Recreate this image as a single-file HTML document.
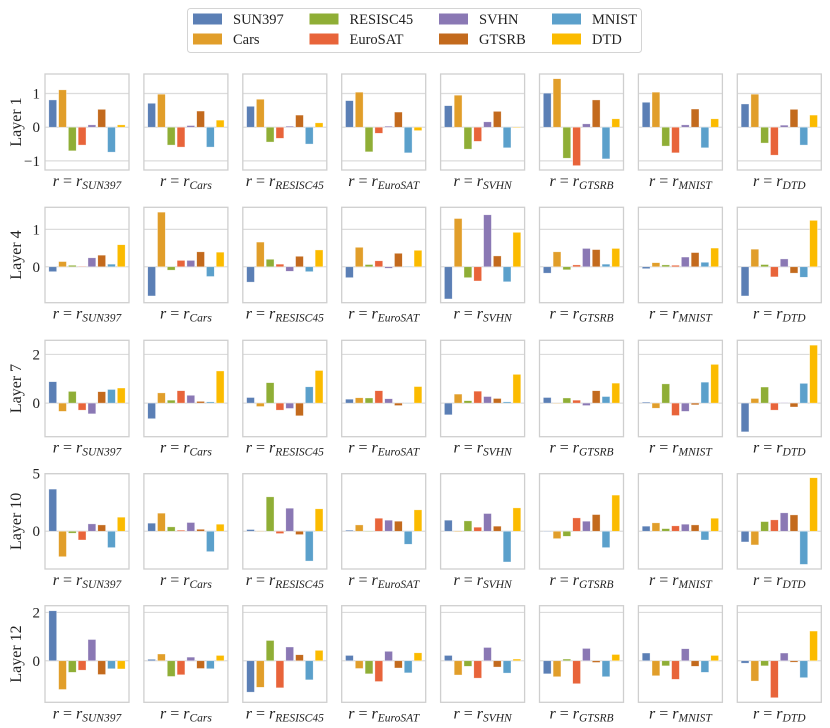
<!DOCTYPE html>
<html><head><meta charset="utf-8"><style>
html,body{margin:0;padding:0;background:#fff;}
svg{display:block;font-family:"Liberation Serif","DejaVu Serif",serif;}
</style></head><body>
<svg id="chart" width="830" height="728" viewBox="0 0 830 728">
<g id="legend"></g>
<g id="panels"></g>
</svg>
<script>
const datasets = ["SUN397","Cars","RESISC45","EuroSAT","SVHN","GTSRB","MNIST","DTD"];
const colors = ["#5b7fb5","#e19e2a","#8fae36","#e8643a","#8a78b4","#c36a1d","#5ba0cb","#fbbb00"];
const layerNames = ["Layer 1","Layer 4","Layer 7","Layer 10","Layer 12"];
const yTicks = [[-1,0,1],[0,1],[0,2],[0,5],[0,2]];
const yLimits = [[-1.27,1.58],[-0.96,1.59],[-1.38,2.58],[-3.28,5],[-1.72,2.28]];
// values[layer][panel r][bar dataset]
const layer1 = [
 [0.81,1.11,-0.70,-0.53,0.07,0.53,-0.74,0.07],
 [0.71,0.98,-0.53,-0.59,0.05,0.48,-0.59,0.21],
 [0.62,0.83,-0.44,-0.33,0.03,0.36,-0.50,0.13],
 [0.79,1.04,-0.73,-0.18,0.03,0.45,-0.76,-0.10],
 [0.64,0.95,-0.65,-0.42,0.16,0.47,-0.61,-0.02],
 [1.01,1.44,-0.92,-1.14,0.10,0.81,-0.94,0.25],
 [0.74,1.04,-0.56,-0.76,0.07,0.54,-0.61,0.25],
 [0.69,0.98,-0.47,-0.83,0.06,0.53,-0.53,0.36]];
const layer4 = [
 [-0.13,0.14,0.04,0.01,0.24,0.31,0.07,0.59],
 [-0.78,1.46,-0.09,0.17,0.17,0.40,-0.26,0.39],
 [-0.41,0.66,0.20,0.07,-0.12,0.28,-0.13,0.45],
 [-0.29,0.52,0.06,0.16,-0.04,0.36,0.01,0.44],
 [-0.86,1.29,-0.29,-0.38,1.39,0.29,-0.40,0.92],
 [-0.17,0.40,-0.08,0.05,0.49,0.46,0.07,0.49],
 [-0.05,0.11,0.05,0.04,0.26,0.38,0.12,0.50],
 [-0.78,0.47,0.06,-0.27,0.21,-0.17,-0.28,1.24]];
const layer7 = [
 [0.88,-0.34,0.48,-0.29,-0.44,0.47,0.56,0.62],
 [-0.64,0.42,0.12,0.51,0.32,0.07,0.05,1.32],
 [0.23,-0.14,0.84,-0.29,-0.22,-0.52,0.67,1.34],
 [0.16,0.22,0.21,0.51,0.18,-0.10,0.01,0.68],
 [-0.48,0.37,0.10,0.49,0.27,0.19,0.05,1.18],
 [0.23,0.00,0.21,0.12,-0.10,0.51,0.27,0.82],
 [0.04,-0.21,0.79,-0.51,-0.34,-0.07,0.86,1.59],
 [-1.18,0.19,0.66,-0.29,0.02,-0.16,0.81,2.38]];
const layer10 = [
 [3.66,-2.21,-0.17,-0.76,0.64,0.55,-1.42,1.22],
 [0.70,1.57,0.38,0.09,0.76,0.17,-1.77,0.61],
 [0.15,0.03,2.99,-0.20,2.00,-0.29,-2.59,1.95],
 [0.09,0.55,0.02,1.13,0.96,0.87,-1.13,1.86],
 [0.96,-0.06,0.90,0.35,1.54,0.44,-2.67,2.03],
 [-0.03,-0.64,-0.44,1.16,0.87,1.45,-1.42,3.14],
 [0.44,0.73,0.23,0.47,0.61,0.55,-0.76,1.13],
 [-0.93,-1.19,0.84,0.99,1.60,1.42,-2.88,4.65]];
const layer12 = [
 [2.07,-1.19,-0.48,-0.39,0.88,-0.57,-0.33,-0.34],
 [0.06,0.28,-0.65,-0.58,0.15,-0.32,-0.33,0.22],
 [-1.30,-1.10,0.84,-1.12,0.57,0.25,-0.79,0.43],
 [0.22,-0.32,-0.54,-0.86,0.39,-0.30,-0.50,0.33],
 [0.22,-0.59,-0.23,-0.72,0.55,-0.26,-0.51,0.07],
 [-0.54,-0.66,0.07,-0.95,0.51,-0.07,-0.66,0.26],
 [0.32,-0.62,-0.21,-0.77,0.50,-0.23,-0.48,0.22],
 [-0.10,-0.84,-0.21,-1.53,0.32,-0.06,-0.70,1.23]];
const values = [layer1,layer4,layer7,layer10,layer12];

const NS="http://www.w3.org/2000/svg";
function mk(tag,attrs,parent){const e=document.createElementNS(NS,tag);for(const k in attrs)e.setAttribute(k,attrs[k]);parent.appendChild(e);return e;}

// legend
const lg=document.getElementById('legend');
const box=mk('rect',{x:187.5,y:8.5,width:454,height:44,rx:3,fill:'#fff',stroke:'#d4d4d4','stroke-width':1},lg);


const legX=[193,309.5,439,552];
datasets.forEach((d,i)=>{
  const col=Math.floor(i/2), row=i%2;
  const g=mk('g',{},lg);
  
  
  mk('rect',{x:legX[col],y:13.5+row*20,width:29,height:11,fill:colors[i]},g);
  const t=mk('text',{x:legX[col]+40,y:24+row*20,'font-size':14.5,fill:'#222'},g);
  t.textContent=d;
});

// panels
const rowsTop=[74,207.3,340.3,473.7,605.7], rowsBot=[170,302.7,436.7,569,702.3];
const pW=84, pitchX=98.9, x0=45;
const xmin=-0.79, xmax=7.79;
const pg=document.getElementById('panels');
values.forEach((layer,r)=>{
  const top=rowsTop[r], bot=rowsBot[r], [ymin,ymax]=yLimits[r];
  const yS=v=>bot-(v-ymin)/(ymax-ymin)*(bot-top);
  const rl=mk('text',{x:0,y:0,'font-size':16,fill:'#222','text-anchor':'middle',transform:`translate(21,${(top+bot)/2}) rotate(-90)`},pg);
  
  
  rl.textContent=layerNames[r];
  yTicks[r].forEach(tv=>{
    const tl=mk('text',{x:40,y:yS(tv)+5,'font-size':15,fill:'#222','text-anchor':'end'},pg);
    
    
    tl.textContent=tv<0?'\u2212'+Math.abs(tv):String(tv);
  });
  layer.forEach((vals,p)=>{
    const L=x0+p*pitchX;
    const xS=v=>L+(v-xmin)/(xmax-xmin)*pW;
    const g=mk('g',{},pg);
    
    
    mk('rect',{x:L,y:top,width:pW,height:bot-top,fill:'#fff'},g);
    yTicks[r].forEach(tv=>{
      const gl=mk('line',{x1:L,x2:L+pW,y1:yS(tv),y2:yS(tv),stroke:'#dcdcdc','stroke-width':1.2},g);
      
      
    });
    vals.forEach((v,b)=>{
      const y0=yS(0), y1=yS(v);
      const bar=mk('rect',{x:xS(b-0.4),y:Math.min(y0,y1),width:xS(b+0.4)-xS(b-0.4),height:Math.max(0.5,Math.abs(y1-y0)),fill:colors[b],stroke:'#fff','stroke-opacity':0.6,'stroke-width':0.6},g);
      
      
    });
    mk('rect',{x:L,y:top,width:pW,height:bot-top,fill:'none',stroke:'#cfcfcf','stroke-width':1.3},g);
    const xl=mk('text',{x:L+pW/2,y:bot+16,'font-size':16,fill:'#222','text-anchor':'middle','font-style':'italic'},g);
    
    
    xl.innerHTML='r<tspan font-style="normal"> = </tspan>r<tspan font-size="11.5" dy="3">'+datasets[p]+'</tspan>';
  });
});
</script>
</body></html>
